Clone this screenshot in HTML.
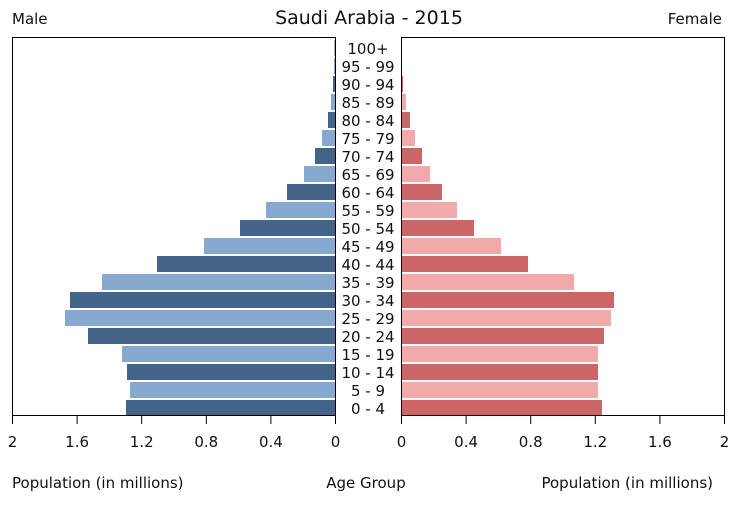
<!DOCTYPE html>
<html><head><meta charset="utf-8"><style>body{margin:0;background:#fff}svg{display:block}text{font-family:"DejaVu Sans","Liberation Sans",sans-serif;fill:#111}</style></head><body>
<svg width="735" height="512" viewBox="0 0 735 512" xmlns="http://www.w3.org/2000/svg">
<text x="12" y="24" font-size="15">Male</text>
<text x="369" y="24" font-size="19" text-anchor="middle">Saudi Arabia - 2015</text>
<text x="722" y="24" font-size="15" text-anchor="end">Female</text>
<g id="bars"></g>
<rect x="12.5" y="37.5" width="323" height="378" fill="none" stroke="#000"/>
<rect x="401.5" y="37.5" width="323" height="378" fill="none" stroke="#000"/>
<g id="ticks" stroke="#000"></g>
<g id="tl" font-size="15" text-anchor="middle"></g>
<g id="ages" font-size="15" text-anchor="middle"></g>
<text x="12" y="488" font-size="15">Population (in millions)</text>
<text x="366" y="488" font-size="15" text-anchor="middle">Age Group</text>
<text x="713" y="488" font-size="15" text-anchor="end">Population (in millions)</text>
<script>
var ns="http://www.w3.org/2000/svg";
var ages=["0 - 4","5 - 9","10 - 14","15 - 19","20 - 24","25 - 29","30 - 34","35 - 39","40 - 44","45 - 49","50 - 54","55 - 59","60 - 64","65 - 69","70 - 74","75 - 79","80 - 84","85 - 89","90 - 94","95 - 99","100+"];
var ml=[126,130,127,122,88,65,70,102,157,204,240,266,287,304,315,322,328,331,333,334,334.5];
var fr=[602,598,598,598,604,611,614,574,528,501,474,457,442,430,422,415,410,406,403,402,402];
function el(t,a,p,txt){var e=document.createElementNS(ns,t);for(var k in a)e.setAttribute(k,a[k]);if(txt)e.textContent=txt;document.getElementById(p).appendChild(e);}
for(var i=0;i<21;i++){var y=416-(i+1)*18+2;var d=i%2==0;
el("rect",{x:ml[i],y:y,width:335.5-ml[i],height:16,fill:d?"#44648a":"#87a8cf"},"bars");
el("rect",{x:401.5,y:y,width:fr[i]-401.5,height:16,fill:d?"#cc6666":"#f2a9a9"},"bars");
el("text",{x:368,y:y+14},"ages",ages[i]);}
var lab=["2","1.6","1.2","0.8","0.4","0"];
for(var j=0;j<6;j++){var xl=12.5+j*64.6,xr=724.5-j*64.6;
el("line",{x1:xl,y1:416,x2:xl,y2:424},"ticks");el("line",{x1:xr,y1:416,x2:xr,y2:424},"ticks");
el("text",{x:xl,y:447},"tl",lab[j]);el("text",{x:xr,y:447},"tl",lab[j]);}
</script>
</svg></body></html>
